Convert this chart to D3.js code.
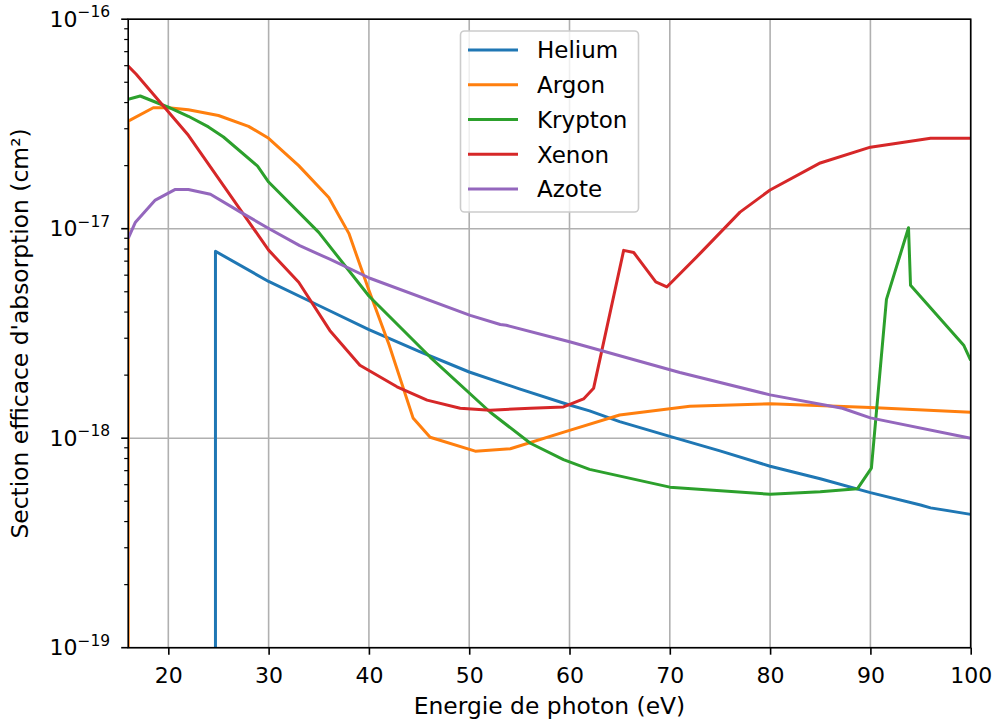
<!DOCTYPE html>
<html><head><meta charset="utf-8">
<script src="https://cdn.jsdelivr.net/npm/d3@7"></script>
<style>body{margin:0;background:#fff}svg{display:block}text{font-family:"DejaVu Sans",sans-serif;fill:#000}</style>
</head><body><svg id="c" width="997" height="724"></svg>
<script>
const seriesNames = ["Helium","Argon","Krypton","Xenon","Azote"];
const seriesColors = ["#1f77b4","#ff7f0e","#2ca02c","#d62728","#9467bd"];
const xTicks = [20,30,40,50,60,70,80,90,100];
const yTicks = [1e-19,1e-18,1e-17,1e-16];
const yTickExp = ["−19","−18","−17","−16"];

const heliumE = [24.7,24.7,30,35,40,45,50,55,60,62,65,70,75,80,85,90,95,96,100];
const heliumS = [1e-20,7.8e-18,5.6e-18,4.3e-18,3.3e-18,2.6e-18,2.07e-18,1.72e-18,1.44e-18,1.35e-18,1.2e-18,1.02e-18,8.7e-19,7.35e-19,6.4e-19,5.5e-19,4.8e-19,4.65e-19,4.33e-19];

const argonE = [16,16,18.5,20,22,25,28,30,33,36,38,40,42,44.4,46.1,50.6,54.1,60,65,72,80,90,100];
const argonS = [1e-20,3.26e-17,3.78e-17,3.78e-17,3.7e-17,3.47e-17,3.08e-17,2.7e-17,2.0e-17,1.41e-17,9.5e-18,5.08e-18,2.8e-18,1.25e-18,1.01e-18,8.67e-19,8.9e-19,1.09e-18,1.29e-18,1.42e-18,1.46e-18,1.4e-18,1.33e-18];

const kryptonE = [16,17.2,20,22,24,25.5,28.9,30,35,40,46.1,52.1,56.1,59.4,62,70,80,85,88.7,90.1,91.6,93.8,94.0,99.3,100];
const kryptonS = [4.15e-17,4.3e-17,3.8e-17,3.44e-17,3.06e-17,2.74e-17,1.99e-17,1.67e-17,9.6e-18,4.77e-18,2.44e-18,1.33e-18,9.46e-19,7.9e-19,7.1e-19,5.84e-19,5.4e-19,5.55e-19,5.73e-19,7.2e-19,4.6e-18,1.01e-17,5.37e-18,2.78e-18,2.35e-18];

const xenonE = [16,16.8,22.0,30,33,36.1,39.1,42.8,45.8,49.1,52.1,56.1,59.4,61.4,62.4,65.4,66.4,68.6,69.7,73,77,80,85,90,96,100];
const xenonS = [5.97e-17,5.46e-17,2.79e-17,7.9e-18,5.55e-18,3.27e-18,2.23e-18,1.76e-18,1.52e-18,1.39e-18,1.36e-18,1.39e-18,1.41e-18,1.54e-18,1.73e-18,7.88e-18,7.7e-18,5.57e-18,5.27e-18,7.6e-18,1.2e-17,1.53e-17,2.06e-17,2.45e-17,2.7e-17,2.7e-17];

const azoteE = [16,16.7,18.7,20.7,22.0,24.2,27.2,30.1,33.1,36.1,40.1,50.1,53.1,53.7,60.1,71,80,87.2,90,100];
const azoteS = [9.0e-18,1.07e-17,1.37e-17,1.54e-17,1.54e-17,1.46e-17,1.2e-17,9.97e-18,8.3e-18,7.15e-18,5.8e-18,3.86e-18,3.49e-18,3.46e-18,2.88e-18,2.06e-18,1.61e-18,1.39e-18,1.25e-18,1.0e-18];

const seriesE = [heliumE,argonE,kryptonE,xenonE,azoteE];
const seriesS = [heliumS,argonS,kryptonS,xenonS,azoteS];

const W=997,H=724, L=128.2, R=970.7, T=19.2, B=647.7;
const svg = d3.select("#c");
const x = d3.scaleLinear().domain([16,100]).range([L,R]);
const y = d3.scaleLog().domain([1e-19,1e-16]).range([B,T]);

svg.append("defs").append("clipPath").attr("id","clip").append("rect")
  .attr("x",L).attr("y",T).attr("width",R-L).attr("height",B-T);

// grid
const grid = svg.append("g");
grid.selectAll("line.gx").data(xTicks).join("line")
  .attr("x1",d=>x(d)).attr("x2",d=>x(d)).attr("y1",T).attr("y2",B)
  .attr("stroke","#b0b0b0").attr("stroke-width",1.6);
grid.selectAll("line.gy").data(yTicks).join("line")
  .attr("y1",d=>y(d)).attr("y2",d=>y(d)).attr("x1",L).attr("x2",R)
  .attr("stroke","#b0b0b0").attr("stroke-width",1.6);

// lines
const line = d3.line().x(d=>x(d[0])).y(d=>y(d[1]));
const lg = svg.append("g").attr("clip-path","url(#clip)");
seriesNames.forEach((n,i)=>{
  const pts = seriesE[i].map((e,j)=>[e,seriesS[i][j]]);
  lg.append("path").datum(pts).attr("d",line).attr("fill","none")
    .attr("stroke",seriesColors[i]).attr("stroke-width",3).attr("stroke-linejoin","round").attr("stroke-linecap","butt");
});

// spines
svg.append("rect").attr("x",L).attr("y",T).attr("width",R-L).attr("height",B-T)
  .attr("fill","none").attr("stroke","#000").attr("stroke-width",1.6);

// x axis ticks
const xa = svg.append("g").attr("transform",`translate(0,${B})`)
  .call(d3.axisBottom(x).tickValues(xTicks).tickSize(7).tickSizeOuter(0).tickFormat(d3.format("d")));
xa.select(".domain").remove();
xa.selectAll(".tick line").attr("stroke-width",1.6);
xa.selectAll(".tick text").attr("font-size",22).attr("font-family","DejaVu Sans").attr("dy",null).attr("y",35);

// y axis: minor ticks
const minor = [];
for (let e=-19;e<-16;e++) for (let k=2;k<10;k++) minor.push(k*Math.pow(10,e));
svg.append("g").selectAll("line").data(minor).join("line")
  .attr("x1",L-4).attr("x2",L).attr("y1",d=>y(d)).attr("y2",d=>y(d))
  .attr("stroke","#000").attr("stroke-width",1.2);
const yg = svg.append("g");
yg.selectAll("line").data(yTicks).join("line")
  .attr("x1",L-7).attr("x2",L).attr("y1",d=>y(d)).attr("y2",d=>y(d))
  .attr("stroke","#000").attr("stroke-width",1.6);
yTicks.forEach((t,i)=>{
  const tx = yg.append("text").attr("x",L-18).attr("y",y(t)+7.5).attr("text-anchor","end").attr("font-size",22);
  tx.append("tspan").text("10");
  tx.append("tspan").attr("dy",-9.5).attr("font-size",15.5).text(yTickExp[i]);
});

// axis labels
svg.append("text").attr("x",(L+R)/2).attr("y",714).attr("text-anchor","middle").attr("font-size",23.4).text("Energie de photon (eV)");
svg.append("text").attr("transform",`translate(28,${(T+B)/2}) rotate(-90)`).attr("text-anchor","middle").attr("font-size",23.4).text("Section efficace d'absorption (cm²)");

// legend
const lgd = svg.append("g");
lgd.append("rect").attr("x",460.5).attr("y",31).attr("width",178).attr("height",181).attr("rx",4)
  .attr("fill","#fff").attr("fill-opacity",0.8).attr("stroke","#cccccc").attr("stroke-width",1.6);
seriesNames.forEach((n,i)=>{
  const yy = 50 + i*34.75;
  lgd.append("line").attr("x1",468).attr("x2",518).attr("y1",yy).attr("y2",yy)
    .attr("stroke",seriesColors[i]).attr("stroke-width",3);
  lgd.append("text").attr("x",537).attr("y",yy+8.3).attr("font-size",23).text(n);
});
</script></body></html>
